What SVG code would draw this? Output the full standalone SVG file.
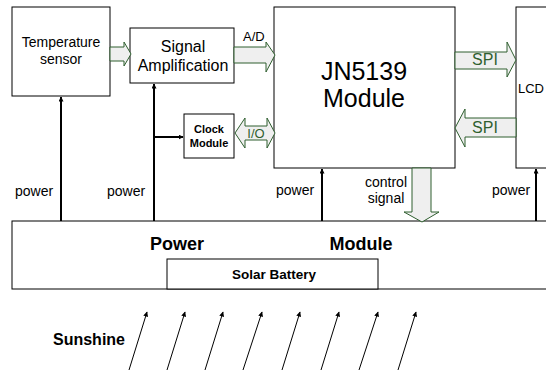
<svg xmlns="http://www.w3.org/2000/svg" width="546" height="370" viewBox="0 0 546 370">
<defs>
<marker id="ah" viewBox="0 0 10 10" refX="9" refY="5" markerWidth="5" markerHeight="5" orient="auto" markerUnits="userSpaceOnUse">
<path d="M0,0 L10,5 L0,10 z" fill="#000"/>
</marker>
<marker id="ahs" viewBox="0 0 10 10" refX="9" refY="5" markerWidth="6" markerHeight="5" orient="auto" markerUnits="userSpaceOnUse">
<path d="M0,0 L10,5 L0,10 z" fill="#000"/>
</marker>
</defs>
<style>
.box{fill:#fff;stroke:#000;stroke-width:1}
.t{font-family:"Liberation Sans",Arial,sans-serif;fill:#000}
.b{font-weight:bold}
.blk{fill:#efefef;stroke:#2f5f2f;stroke-width:1}
.g{fill:#2f5f2f}
.pw{stroke:#000;stroke-width:2;fill:none}
.sun{stroke:#000;stroke-width:1;fill:none}
</style>
<rect width="546" height="370" fill="#fff"/>

<g id="power-module">
<rect class="box" x="12" y="221" width="540" height="68"/>
<text class="t b" x="177" y="250" font-size="18" text-anchor="middle">Power</text>
<text class="t b" x="361" y="250" font-size="18" text-anchor="middle">Module</text>
</g>
<g id="solar-battery">
<rect class="box" x="167" y="259" width="211" height="30"/>
<text class="t b" x="274" y="279" font-size="13.5" text-anchor="middle">Solar  Battery</text>
</g>

<g id="temp-sensor">
<rect class="box" x="12" y="7" width="98" height="89"/>
<text class="t" x="61" y="47" font-size="14" text-anchor="middle">Temperature</text>
<text class="t" x="61" y="64" font-size="14" text-anchor="middle">sensor</text>
</g>
<g id="signal-amp">
<rect class="box" x="130" y="28" width="104" height="55"/>
<text class="t" x="183" y="52" font-size="16" text-anchor="middle">Signal</text>
<text class="t" x="183" y="71" font-size="16" text-anchor="middle">Amplification</text>
</g>
<g id="clock-module">
<rect class="box" x="184" y="114" width="50" height="44"/>
<text class="t b" x="209" y="133" font-size="11" text-anchor="middle">Clock</text>
<text class="t b" x="209" y="147" font-size="11" text-anchor="middle">Module</text>
</g>
<g id="jn5139">
<rect class="box" x="274" y="7" width="181" height="161"/>
<text class="t" x="364" y="80" font-size="25" text-anchor="middle">JN5139</text>
<text class="t" x="364" y="107" font-size="25" text-anchor="middle">Module</text>
</g>
<g id="lcd">
<rect class="box" x="516" y="7" width="40" height="161"/>
<text class="t" x="518" y="93" font-size="13">LCD</text>
</g>

<g id="connectors">
<!-- temp -> signal -->
<path class="blk" d="M110,47 H124 V42 L131,54 L124,66 V61 H110 Z"/>
<!-- A/D -->
<path class="blk" d="M234,47 H266 V42 L275,55 L266,72 V63 H234 Z"/>
<text class="t" x="243" y="41" font-size="13">A/D</text>
<!-- I/O -->
<path class="blk" d="M235,133 L245,118 V126 H267 V118 L275,133 L267,148 V140 H245 V148 Z"/>
<text class="t g" x="256" y="138" font-size="13" text-anchor="middle">I/O</text>
<!-- SPI top -->
<path class="blk" d="M455,52 H507 V42 L516,60 L507,77 V69 H455 Z"/>
<text class="t g" x="485" y="65" font-size="16" text-anchor="middle">SPI</text>
<!-- SPI bottom -->
<path class="blk" d="M516,118 H465 V109 L455,128 L465,147 V137 H516 Z"/>
<text class="t g" x="485" y="133" font-size="16" text-anchor="middle">SPI</text>
<!-- control signal -->
<path class="blk" d="M412,168 V212 H404 L422,222 L439,212 H431 V168 Z"/>
<text class="t" x="386" y="187" font-size="14" text-anchor="middle">control</text>
<text class="t" x="386" y="203" font-size="14" text-anchor="middle">signal</text>

<!-- power lines -->
<line class="pw" x1="61" y1="221" x2="61" y2="97" marker-end="url(#ah)"/>
<line class="pw" x1="154" y1="221" x2="154" y2="84" marker-end="url(#ah)"/>
<line class="pw" x1="154" y1="137" x2="183" y2="137" marker-end="url(#ah)"/>
<line class="pw" x1="322" y1="221" x2="322" y2="169" marker-end="url(#ah)"/>
<line class="pw" x1="536" y1="221" x2="536" y2="169" marker-end="url(#ah)"/>
<text class="t" x="15" y="196" font-size="14">power</text>
<text class="t" x="107" y="196" font-size="14">power</text>
<text class="t" x="276" y="195" font-size="14">power</text>
<text class="t" x="492" y="195" font-size="14">power</text>

<!-- sunshine -->
<line class="sun" x1="129" y1="370" x2="147" y2="312" marker-end="url(#ahs)"/>
<line class="sun" x1="167" y1="370" x2="185" y2="312" marker-end="url(#ahs)"/>
<line class="sun" x1="205" y1="370" x2="223" y2="312" marker-end="url(#ahs)"/>
<line class="sun" x1="243" y1="370" x2="262" y2="312" marker-end="url(#ahs)"/>
<line class="sun" x1="282" y1="370" x2="300" y2="312" marker-end="url(#ahs)"/>
<line class="sun" x1="321" y1="370" x2="339" y2="312" marker-end="url(#ahs)"/>
<line class="sun" x1="359" y1="370" x2="378" y2="312" marker-end="url(#ahs)"/>
<line class="sun" x1="398" y1="370" x2="416" y2="312" marker-end="url(#ahs)"/>
</g>
<text class="t b" x="53" y="345" font-size="16">Sunshine</text>
</svg>
